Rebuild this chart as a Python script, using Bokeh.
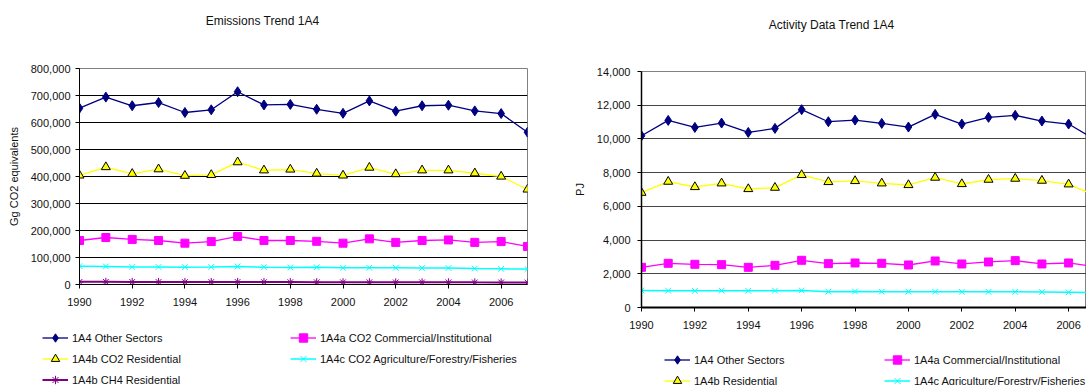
from bokeh.plotting import figure
from bokeh.models import (Range1d, FixedTicker, NumeralTickFormatter, Label,
                          Legend, LegendItem)
from bokeh.layouts import row, column
from bokeh.embed import file_html
from bokeh.resources import INLINE

FONT = "Liberation Sans"

years = list(range(1990, 2008))
year_ticks = years[::2]

# Emissions Trend 1A4 (Gg CO2 equivalents)
em_other = [653000, 694000, 662000, 674000, 637000, 647000, 714000, 665000, 667000,
            649000, 634000, 680000, 642000, 662000, 664000, 643000, 633000, 564000]
em_comm = [163000, 174000, 167000, 163000, 153000, 159000, 178000, 163000, 163000,
           160000, 153000, 169000, 156000, 163000, 165000, 156000, 159000, 141000]
em_res = [404000, 435000, 410000, 427000, 403000, 406000, 453000, 423000, 426000,
          411000, 404000, 433000, 409000, 423000, 423000, 412000, 400000, 352000]
em_agri = [68000, 67000, 65000, 65000, 64000, 65000, 67000, 64000, 63000,
           64000, 62000, 62000, 62000, 61000, 61000, 59000, 58000, 57000]
em_ch4 = [9800, 9900, 9500, 9400, 9000, 9200, 9600, 8900, 8800,
          8600, 8300, 8500, 8000, 8100, 8200, 7900, 7800, 7200]
em_labels = ["1A4 Other Sectors", "1A4a CO2 Commercial/Institutional",
             "1A4b CO2 Residential", "1A4c CO2 Agriculture/Forestry/Fisheries",
             "1A4b CH4 Residential"]
em_yticks = list(range(0, 800001, 100000))

# Activity Data Trend 1A4 (PJ)
ad_other = [10187, 11100, 10683, 10942, 10386, 10625, 11736, 11021, 11120,
            10922, 10704, 11458, 10883, 11279, 11398, 11061, 10883, 9950]
ad_comm = [2383, 2621, 2562, 2542, 2383, 2502, 2800, 2602, 2641,
           2621, 2522, 2760, 2582, 2701, 2780, 2582, 2641, 2420]
ad_res = [6810, 7466, 7149, 7367, 7030, 7109, 7864, 7447, 7506,
          7367, 7268, 7705, 7327, 7586, 7645, 7526, 7308, 6650]
ad_agri = [1010, 1000, 990, 1000, 990, 1000, 1010, 940, 950,
           940, 940, 940, 930, 930, 930, 920, 900, 880]
ad_labels = ["1A4 Other Sectors", "1A4a Commercial/Institutional",
             "1A4b Residential", "1A4c Agriculture/Forestry/Fisheries"]
ad_yticks = list(range(0, 14001, 2000))

STYLES = [
    dict(color="#000080", marker="diamond", size=10, fill="#000080", mline="#000080", lw=1.3),
    dict(color="#FF00FF", marker="square", size=8, fill="#FF00FF", mline="#FF00FF", lw=1.3),
    dict(color="#FFFF00", marker="triangle", size=9, fill="#FFFF00", mline="#000000", lw=1.3),
    dict(color="#00FFFF", marker="x", size=8, fill="#00FFFF", mline="#00FFFF", lw=1.5),
    dict(color="#800080", marker="asterisk", size=8, fill="#800080", mline="#800080", lw=2.0),
]


def blank_fig(width, height):
    f = figure(width=width, height=height, output_backend="svg",
               toolbar_location=None, x_axis_type=None, y_axis_type=None,
               x_range=Range1d(1990, 2007), y_range=Range1d(0, 1),
               min_border=0)
    f.frame_align = False
    f.outline_line_color = None
    f.background_fill_color = "white"
    f.border_fill_color = "white"
    return f


def title_fig(width, height, text, x, y):
    f = blank_fig(width, height)
    f.add_layout(Label(x=x, y=y, x_units="screen", y_units="screen",
                       text=text, text_align="center", text_baseline="middle",
                       text_font=FONT, text_font_size="12px",
                       text_color="#111111"))
    return f


def make_fig(width, height, x_end, y_end, yticks, bl, br, bt, bb, ylabel,
             grid_color):
    p = figure(width=width, height=height, output_backend="svg",
               toolbar_location=None,
               x_range=Range1d(1990, x_end), y_range=Range1d(0, y_end),
               min_border_left=bl, min_border_right=br,
               min_border_top=bt, min_border_bottom=bb)
    p.frame_align = False
    p.background_fill_color = "white"
    p.border_fill_color = "white"
    p.outline_line_color = "#808080"
    p.xgrid.visible = False
    p.ygrid.ticker = FixedTicker(ticks=yticks)
    p.ygrid.grid_line_color = grid_color
    p.ygrid.grid_line_width = 1

    p.xaxis.ticker = FixedTicker(ticks=year_ticks)
    p.yaxis.ticker = FixedTicker(ticks=yticks)
    p.yaxis.formatter = NumeralTickFormatter(format="0,0")
    for ax in (p.xaxis[0], p.yaxis[0]):
        ax.axis_line_color = "black"
        ax.major_tick_line_color = "black"
        ax.major_tick_in = 0
        ax.major_tick_out = 4
        ax.minor_tick_line_color = None
        ax.major_label_text_font = FONT
        ax.major_label_text_font_size = "11px"
        ax.major_label_text_color = "#111111"
    p.xaxis.major_label_standoff = 9
    p.yaxis.axis_label = ylabel
    p.yaxis.axis_label_text_font = FONT
    p.yaxis.axis_label_text_font_size = "11px"
    p.yaxis.axis_label_text_font_style = "normal"
    p.yaxis.axis_label_text_color = "#111111"
    p.yaxis.axis_label_standoff = 8
    return p


def add_series(p, series, visible=True):
    rends = []
    for vals, st in zip(series, STYLES):
        lr = p.line(years, vals, line_color=st["color"], line_width=st["lw"],
                    visible=visible)
        sr = p.scatter(years, vals, marker=st["marker"], size=st["size"],
                       fill_color=st["fill"], line_color=st["mline"],
                       line_width=1.0, visible=visible)
        rends.append([lr, sr])
    return rends


def add_legend(f, rends, labels, idx, loc):
    items = [LegendItem(label=labels[i], renderers=rends[i]) for i in idx]
    leg = Legend(items=items, location=loc, orientation="vertical",
                 padding=0, margin=0, spacing=0, glyph_width=26,
                 glyph_height=21, label_height=21, label_standoff=4,
                 border_line_color=None, background_fill_alpha=0,
                 inactive_fill_alpha=0,
                 label_text_font=FONT, label_text_font_size="11px",
                 label_text_color="#111111")
    f.add_layout(leg)


# ---- Left: Emissions Trend 1A4 (frame x 79..527, y 68..284) ----
em_series = [em_other, em_comm, em_res, em_agri, em_ch4]
t1 = title_fig(540, 48, "Emissions Trend 1A4", 262, 28)
p1 = make_fig(540, 272, 2007, 800000, em_yticks, 79, 13, 20, 36,
              "Gg CO2 equivalents", "black")
p1.yaxis.major_label_standoff = 5
add_series(p1, em_series)
lf1 = blank_fig(540, 65)
r1 = add_series(lf1, em_series, visible=False)
add_legend(lf1, r1, em_labels, [0, 2, 4], (42, -5))
add_legend(lf1, r1, em_labels, [1, 3], (290, 16))

# ---- Right: Activity Data Trend 1A4 (frame x 641..1086, y 71..307) ----
ad_series = [ad_other, ad_comm, ad_res, ad_agri]
t2 = title_fig(546, 48, "Activity Data Trend 1A4", 291, 24)
p2 = make_fig(546, 292, 2006.67, 14000, ad_yticks, 101, 0, 23, 33,
              "PJ", "#444444")
p2.yaxis.major_label_standoff = 7
p2.xaxis.axis_line_width = 2
p2.yaxis.axis_line_width = 1.5
add_series(p2, ad_series)
lf2 = blank_fig(546, 45)
r2 = add_series(lf2, ad_series, visible=False)
add_legend(lf2, r2, ad_labels, [0, 2], (124, -6))
add_legend(lf2, r2, ad_labels, [1, 3], (344, -6))

layout = row(column(t1, p1, lf1), column(t2, p2, lf2))
open("out.html", "w").write(file_html(layout, INLINE))
